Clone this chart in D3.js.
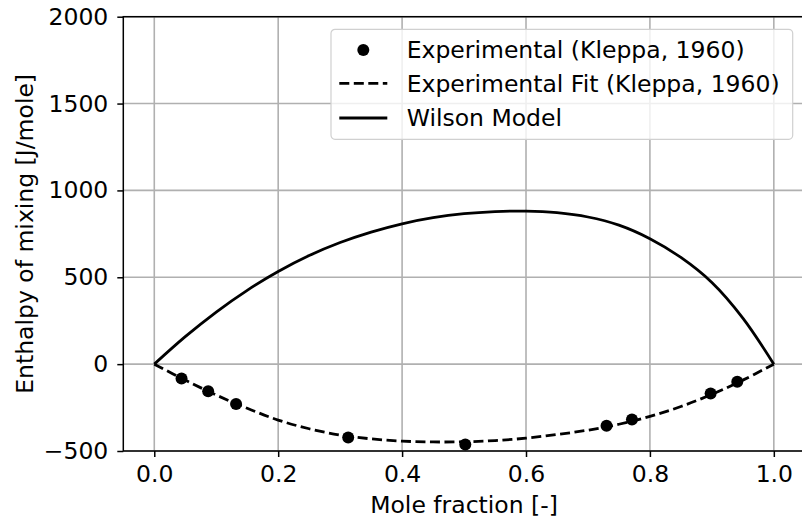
<!DOCTYPE html>
<html>
<head>
<meta charset="utf-8">
<script src="https://cdn.jsdelivr.net/npm/d3@7"></script>
<style>
  body { margin: 0; background: #fff; }
  text { font-family: "DejaVu Sans", sans-serif; fill: #000; }
</style>
</head>
<body>
<div class="chart"></div>
<script>
// experimental points (Kleppa, 1960)
var expX = [0.044, 0.087, 0.132, 0.313, 0.502, 0.730, 0.771, 0.898, 0.941];
var expY = [-83, -156, -229, -422, -463, -355, -319, -169, -102];

// curves read on a 0.05 grid
var gridX = [0, 0.05, 0.1, 0.15, 0.2, 0.25, 0.3, 0.35, 0.4, 0.45, 0.5,
             0.55, 0.6, 0.65, 0.7, 0.75, 0.8, 0.85, 0.9, 0.95, 1.0];
var fitY = [0, -92, -178, -254, -322, -372, -408, -430, -443, -448, -447,
            -440, -426, -405, -380, -346, -301, -244, -174, -92, 0];
var wilsonY = [0, 158, 300, 425, 533, 625, 700, 760, 808, 843, 866,
               878, 881, 872, 847, 800, 722, 614, 470, 265, 0];

var xTicks = [0, 0.2, 0.4, 0.6, 0.8, 1.0];
var yTicks = [-500, 0, 500, 1000, 1500, 2000];
var legendLabels = ["Experimental (Kleppa, 1960)", "Experimental Fit (Kleppa, 1960)", "Wilson Model"];

var svgWidth = 802;
var svgHeight = 521;
var margin = { top: 16.7, left: 123.3 };
var width = 681.5;
var height = 434.3;
var fontSize = "23.5px";

var svg = d3.select(".chart")
  .append("svg")
  .attr("width", svgWidth)
  .attr("height", svgHeight);

var chart = svg.append("g")
  .attr("transform", "translate(" + margin.left + "," + margin.top + ")");

var xScale = d3.scaleLinear().domain([-0.05, 1.05]).range([0, width]);
var yScale = d3.scaleLinear().domain([-500, 2000]).range([height, 0]);

// grid
chart.append("g").selectAll("line").data(xTicks).enter().append("line")
  .attr("x1", function(d) { return xScale(d); })
  .attr("x2", function(d) { return xScale(d); })
  .attr("y1", 0).attr("y2", height)
  .attr("stroke", "#b0b0b0").attr("stroke-width", 1.6);
chart.append("g").selectAll("line").data(yTicks).enter().append("line")
  .attr("y1", function(d) { return yScale(d); })
  .attr("y2", function(d) { return yScale(d); })
  .attr("x1", 0).attr("x2", width)
  .attr("stroke", "#b0b0b0").attr("stroke-width", 1.6);

// curves
var line = d3.line()
  .x(function(d) { return xScale(d[0]); })
  .y(function(d) { return yScale(d[1]); })
  .curve(d3.curveCatmullRom.alpha(0.5));

chart.append("path")
  .datum(gridX.map(function(x, i) { return [x, wilsonY[i]]; }))
  .attr("d", line)
  .attr("fill", "none").attr("stroke", "#000").attr("stroke-width", 2.8);

chart.append("path")
  .datum(gridX.map(function(x, i) { return [x, fitY[i]]; }))
  .attr("d", line)
  .attr("fill", "none").attr("stroke", "#000").attr("stroke-width", 2.8)
  .attr("stroke-dasharray", "10,4.5");

chart.selectAll("circle.exp")
  .data(expX.map(function(x, i) { return [x, expY[i]]; }))
  .enter().append("circle")
  .attr("class", "exp")
  .attr("cx", function(d) { return xScale(d[0]); })
  .attr("cy", function(d) { return yScale(d[1]); })
  .attr("r", 6)
  .attr("fill", "#000");

// axes
var bottomAxis = d3.axisBottom(xScale).tickValues(xTicks).tickSize(6).tickPadding(8)
  .tickFormat(d3.format(".1f"));
var leftAxis = d3.axisLeft(yScale).tickValues(yTicks).tickSize(6).tickPadding(9)
  .tickFormat(function(d) { return d < 0 ? "\u2212" + Math.abs(d) : d; });

var gx = chart.append("g")
  .attr("transform", "translate(0," + height + ")")
  .call(bottomAxis);
var gy = chart.append("g").call(leftAxis);

[gx, gy].forEach(function(g) {
  g.select(".domain").remove();
  g.selectAll("line").attr("stroke", "#000").attr("stroke-width", 1.5);
  g.selectAll("text").style("font-size", fontSize).attr("fill", "#000")
    .style("font-family", "DejaVu Sans, sans-serif");
});

chart.append("rect")
  .attr("width", width).attr("height", height)
  .attr("fill", "none").attr("stroke", "#000").attr("stroke-width", 1.5);

// axis labels
chart.append("text")
  .attr("x", width / 2).attr("y", height + 62)
  .attr("text-anchor", "middle")
  .style("font-size", fontSize)
  .text("Mole fraction [-]");

chart.append("text")
  .attr("transform", "rotate(-90)")
  .attr("x", -height / 2).attr("y", -90.5)
  .attr("text-anchor", "middle")
  .style("font-size", fontSize)
  .text("Enthalpy of mixing [J/mole]");

// legend
var legend = svg.append("g").attr("transform", "translate(331,29.3)");
legend.append("rect")
  .attr("width", 461.7).attr("height", 110)
  .attr("rx", 4)
  .attr("fill", "#fff").attr("fill-opacity", 0.8)
  .attr("stroke", "#d0d0d0").attr("stroke-width", 1.2);

var rowY = [20.7, 54, 88.7];
legend.append("circle").attr("cx", 32.3).attr("cy", rowY[0]).attr("r", 6).attr("fill", "#000");
legend.append("line")
  .attr("x1", 8.3).attr("x2", 56.3).attr("y1", rowY[1]).attr("y2", rowY[1])
  .attr("stroke", "#000").attr("stroke-width", 2.8).attr("stroke-dasharray", "10,4.5");
legend.append("line")
  .attr("x1", 8.3).attr("x2", 56.3).attr("y1", rowY[2]).attr("y2", rowY[2])
  .attr("stroke", "#000").attr("stroke-width", 2.8);

legend.selectAll("text.lbl").data(legendLabels).enter().append("text")
  .attr("class", "lbl")
  .attr("x", 75.7)
  .attr("y", function(d, i) { return rowY[i]; })
  .attr("dy", "0.36em")
  .style("font-size", fontSize)
  .text(function(d) { return d; });
</script>
</body>
</html>
